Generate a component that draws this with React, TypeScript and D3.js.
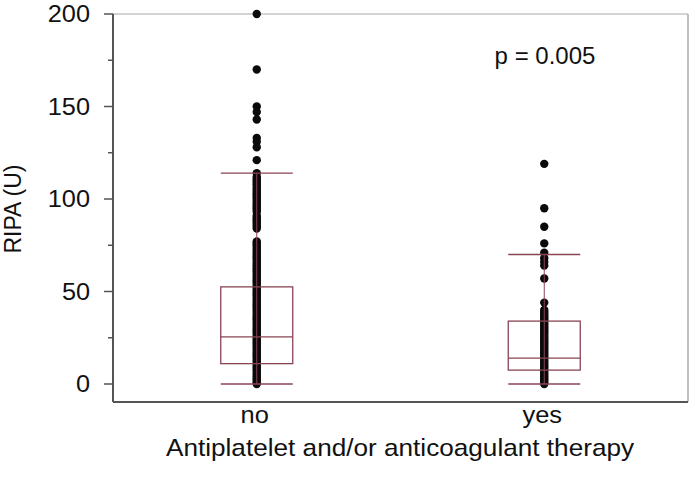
import React from "react";
import * as d3 from "d3";

const categories = ["no", "yes"];

const pointsNo = [
  200, 170, 150, 147, 143, 133, 131, 128, 121, 114,
  112, 111, 110, 109, 108, 107, 106, 105, 104, 103, 102, 101, 100, 99, 98, 97, 96, 95, 94, 93,
  91, 90, 89, 88, 87, 86, 85, 84,
  77, 76, 75, 74, 73, 72, 71, 70, 69, 68, 67, 66, 65, 64, 63, 62, 61, 60, 59, 58, 57, 56, 55,
  54, 53, 52, 51, 50, 49, 48, 47, 46, 45, 44, 43, 42, 41, 40, 39, 38, 37, 36, 35, 34, 33, 32,
  31, 30, 29, 28, 27, 26, 25, 24, 23, 22, 21, 20, 19, 18, 17, 16, 15, 14, 13, 12, 11, 10, 9,
  8, 7, 6, 5, 4, 3, 2, 1, 0,
];
const pointsYes = [
  119, 95, 85, 76, 71, 68, 66, 64, 57, 44,
  40, 39, 38, 37, 36, 35, 34, 33, 32, 31, 30, 29, 28, 27, 26, 25, 24, 23, 22, 21, 20, 19, 18,
  17, 16, 15, 14, 13, 12, 11, 10, 9, 8, 7, 6, 5, 4, 3, 2, 1, 0,
];

// box statistics
const whiskerLow = [0, 0];
const q1 = [11, 7.5];
const median = [25.5, 14];
const q3 = [52.5, 34];
const whiskerHigh = [114, 70];

const majorTicks = [0, 50, 100, 150, 200];
const minorTicks = [25, 75, 125, 175];

const pValueText = "p = 0.005";
const yTitle = "RIPA (U)";
const xTitle = "Antiplatelet and/or anticoagulant therapy";

const W = 695;
const H = 484;
const left = 113;
const right = 688;
const top = 14;
const bottom = 402;
const boxColor = "#8a4555";
const axisColor = "#555";
const textColor = "#111";
const font = "'Liberation Sans', Arial, sans-serif";

export default function App() {
  const x = d3.scaleBand<string>().domain(categories).range([left, right]).padding(0);
  const y = d3.scaleLinear().domain([0, 200]).range([384, top]);
  const halfBox = 36;
  const groups = [pointsNo, pointsYes];

  return (
    <svg width={W} height={H} style={{ position: "absolute", left: 0, top: 0, background: "#fff" }}>
      {/* frame */}
      <line x1={left} x2={right} y1={top} y2={top} stroke="#c4c4c4" strokeWidth={1.5} />
      <line x1={right} x2={right} y1={top} y2={bottom} stroke="#aaa" strokeWidth={1.5} />
      <line x1={left} x2={right} y1={bottom} y2={bottom} stroke={axisColor} strokeWidth={2} />
      <line x1={left} x2={left} y1={top} y2={bottom} stroke={axisColor} strokeWidth={2} />

      {/* y ticks */}
      {majorTicks.map((t) => (
        <g key={"M" + t}>
          <line x1={left - 9} x2={left} y1={y(t)} y2={y(t)} stroke={axisColor} strokeWidth={1.5} />
          <text
            transform={`translate(90,${y(t)}) scale(1.1,1)`}
            textAnchor="end"
            dominantBaseline="central"
            fontFamily={font}
            fontSize={23}
            fill={textColor}
          >
            {t}
          </text>
        </g>
      ))}
      {minorTicks.map((t) => (
        <line key={"m" + t} x1={left - 5} x2={left} y1={y(t)} y2={y(t)} stroke={axisColor} strokeWidth={1.5} />
      ))}

      {/* points */}
      {groups.map((pts, gi) => {
        const cx = (x(categories[gi]) as number) + x.bandwidth() / 2;
        return (
          <g key={"p" + gi}>
            {pts.map((v, i) => (
              <circle key={i} cx={cx} cy={y(v)} r={4.2} fill="#0a0a0a" />
            ))}
          </g>
        );
      })}

      {/* boxes */}
      {categories.map((c, gi) => {
        const cx = (x(c) as number) + x.bandwidth() / 2;
        return (
          <g key={"b" + c} stroke={boxColor} strokeWidth={1.3} fill="none">
            <line x1={cx} x2={cx} y1={y(whiskerLow[gi])} y2={y(whiskerHigh[gi])} strokeWidth={1} />
            <line x1={cx - halfBox} x2={cx + halfBox} y1={y(whiskerLow[gi])} y2={y(whiskerLow[gi])} />
            <line x1={cx - halfBox} x2={cx + halfBox} y1={y(whiskerHigh[gi])} y2={y(whiskerHigh[gi])} />
            <rect x={cx - halfBox} y={y(q3[gi])} width={halfBox * 2} height={y(q1[gi]) - y(q3[gi])} />
            <line x1={cx - halfBox} x2={cx + halfBox} y1={y(median[gi])} y2={y(median[gi])} />
          </g>
        );
      })}

      {/* category labels */}
      {categories.map((c) => (
        <text
          key={"c" + c}
          transform={`translate(${(x(c) as number) + x.bandwidth() / 2 - 2},423) scale(1.06,1)`}
          textAnchor="middle"
          fontFamily={font}
          fontSize={24}
          fill={textColor}
        >
          {c}
        </text>
      ))}

      <text
        transform="translate(400,456) scale(1.09,1)"
        textAnchor="middle"
        fontFamily={font}
        fontSize={24}
        fill={textColor}
      >
        {xTitle}
      </text>

      <text
        transform={`translate(21,209) rotate(-90)`}
        textAnchor="middle"
        fontFamily={font}
        fontSize={23}
        fill={textColor}
      >
        {yTitle}
      </text>

      <text x={545} y={64} textAnchor="middle" fontFamily={font} fontSize={24} fill={textColor}>
        {pValueText}
      </text>
    </svg>
  );
}
